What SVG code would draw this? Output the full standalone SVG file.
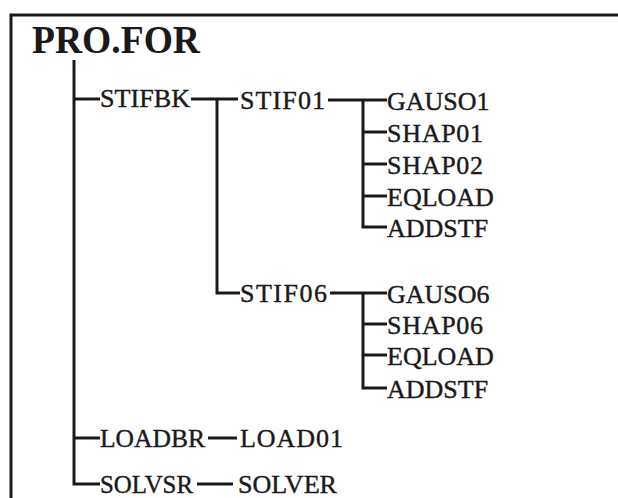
<svg xmlns="http://www.w3.org/2000/svg" width="618" height="498" viewBox="0 0 618 498">
<style>
.t{font-family:"Liberation Serif","Times New Roman",serif;font-size:26px;fill:#1a1a1a;stroke:#1a1a1a;stroke-width:0.4}
.ti{font-family:"Liberation Serif","Times New Roman",serif;font-size:41px;font-weight:bold;fill:#1a1a1a}
.c{stroke:#1a1a1a;stroke-width:3;fill:none}
</style>
<rect width="618" height="498" fill="#fff"/>
<g id="frame"><path class="c" d="M11,498 V15 H618"/></g>
<g id="title"><text class="ti" x="32" y="53" textLength="168" lengthAdjust="spacingAndGlyphs">PRO.FOR</text></g>
<g id="connectors">
<path class="c" d="M74,60 V484 H100"/>
<path class="c" d="M74,99 H100"/>
<path class="c" d="M74,438 H100"/>
<path class="c" d="M191,99 H238"/>
<path class="c" d="M217,99 V293 H240"/>
<path class="c" d="M328,100 H387"/>
<path class="c" d="M363,100 V227 H387 M363,132 H387 M363,164 H387 M363,196 H387"/>
<path class="c" d="M330,293 H387"/>
<path class="c" d="M363,293 V388 H387 M363,324 H387 M363,355 H387"/>
<path class="c" d="M208,438 H237"/>
<path class="c" d="M197,484 H233"/>
</g>
<g id="stifbk"><text class="t" x="100" y="107" textLength="90" lengthAdjust="spacingAndGlyphs">STIFBK</text></g>
<g id="stif01"><text class="t" x="240" y="109" textLength="85">STIF01</text></g>
<g id="gauso1"><text class="t" x="387" y="110">GAUSO1</text></g>
<g id="shap01"><text class="t" x="387" y="142" textLength="96">SHAP01</text></g>
<g id="shap02"><text class="t" x="387" y="174" textLength="96">SHAP02</text></g>
<g id="eqload1"><text class="t" x="387" y="206">EQLOAD</text></g>
<g id="addstf1"><text class="t" x="387" y="237">ADDSTF</text></g>
<g id="stif06"><text class="t" x="240" y="302" textLength="87">STIF06</text></g>
<g id="gauso6"><text class="t" x="387" y="303">GAUSO6</text></g>
<g id="shap06"><text class="t" x="387" y="334" textLength="96">SHAP06</text></g>
<g id="eqload6"><text class="t" x="387" y="365">EQLOAD</text></g>
<g id="addstf6"><text class="t" x="387" y="398">ADDSTF</text></g>
<g id="loadbr"><text class="t" x="100" y="447" textLength="105" lengthAdjust="spacingAndGlyphs">LOADBR</text></g>
<g id="load01"><text class="t" x="240" y="447" textLength="103">LOAD01</text></g>
<g id="solvsr"><text class="t" x="100" y="493" textLength="93" lengthAdjust="spacingAndGlyphs">SOLVSR</text></g>
<g id="solver"><text class="t" x="238" y="493" textLength="99" lengthAdjust="spacingAndGlyphs">SOLVER</text></g>
</svg>
